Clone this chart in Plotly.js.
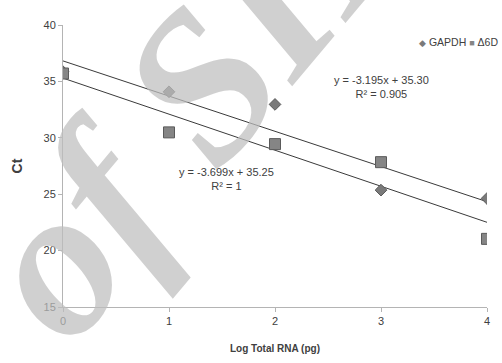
<!DOCTYPE html>
<html>
<head>
<meta charset="utf-8">
<script src="https://cdn.plot.ly/plotly-3.0.1.min.js"></script>
<style>html,body{margin:0;padding:0;background:#fff;}#chart{width:502px;height:363px;}</style>
</head>
<body>
<div id="chart"></div>
<script>
// Data
const logRNA = [0, 1, 2, 3, 4];
const gapdhCt = [35.86, 34.08, 32.96, 25.36, 24.62];
const d6dCt = [35.7, 30.48, 29.44, 27.84, 21.04];
const seriesNames = ["GAPDH", "Δ6D"];
const seriesSymbols = ["◆", "■"];
const eqLabels = ["y = -3.195x + 35.30<br>R² = 0.905", "y = -3.699x + 35.25<br>R² = 1"];
const yTicks = [15, 20, 25, 30, 35, 40];
const xTicks = [0, 1, 2, 3, 4];

function fit(xs, ys) {
  const n = xs.length;
  const mx = xs.reduce((a, b) => a + b, 0) / n;
  const my = ys.reduce((a, b) => a + b, 0) / n;
  let sxy = 0, sxx = 0;
  for (let i = 0; i < n; i++) { sxy += (xs[i] - mx) * (ys[i] - my); sxx += (xs[i] - mx) ** 2; }
  const m = sxy / sxx, b = my - m * mx;
  const x0 = Math.min(...xs), x1 = Math.max(...xs);
  return { x: [x0, x1], y: [m * x0 + b, m * x1 + b] };
}
const gFit = fit(logRNA, gapdhCt);
const dFit = fit(logRNA, d6dCt);

const txt = '#404040';
const font = 'Liberation Sans, Arial, sans-serif';
const markerColors = ['#7a7a7a', '#858585'];

const traces = [
  { x: gFit.x, y: gFit.y, mode: 'lines', line: { color: '#3a3a3a', width: 1 }, showlegend: false, hoverinfo: 'skip' },
  { x: dFit.x, y: dFit.y, mode: 'lines', line: { color: '#3a3a3a', width: 1 }, showlegend: false, hoverinfo: 'skip' },
  { x: logRNA, y: gapdhCt, name: seriesNames[0], mode: 'markers', type: 'scatter',
    marker: { symbol: 'diamond', size: 9, color: markerColors[0], line: { color: '#5a5a5a', width: 1 } } },
  { x: logRNA, y: d6dCt, name: seriesNames[1], mode: 'markers', type: 'scatter',
    marker: { symbol: 'square', size: 11, color: markerColors[1], line: { color: '#5a5a5a', width: 1 } } }
];

const legendText = seriesNames.map((n, i) =>
  '<span style="font-size:9px;color:' + markerColors[i] + '">' + seriesSymbols[i] + '</span> ' + n).join(' ');

const layout = {
  width: 502, height: 363,
  margin: { l: 63, r: 15, t: 25, b: 56, autoexpand: false },
  paper_bgcolor: '#fff', plot_bgcolor: '#fff',
  font: { family: font, size: 11, color: txt },
  showlegend: false,
  xaxis: {
    range: [0, 4], tickvals: xTicks, ticktext: xTicks.map(String),
    showgrid: false, zeroline: false, showline: true, linecolor: '#b4b4b4', linewidth: 1,
    ticks: 'outside', ticklen: 4, tickcolor: '#b4b4b4',
    tickfont: { size: 11, color: txt },
    title: { text: '<b>Log Total RNA (pg)</b>', font: { size: 10, color: txt }, standoff: 18 }
  },
  yaxis: {
    range: [15, 40], tickvals: yTicks, ticktext: yTicks.map(String),
    showgrid: false, zeroline: false, showline: true, linecolor: '#b4b4b4', linewidth: 1,
    ticks: 'outside', ticklen: 4, tickcolor: '#b4b4b4',
    tickfont: { size: 11, color: txt },
    title: { text: '<b>Ct</b>', font: { size: 14, color: txt }, standoff: 17 }
  },
  annotations: [
    { xref: 'paper', yref: 'paper', x: 0.33, y: 0.80, text: 'of SID', showarrow: false,
      textangle: -50, font: { family: 'Liberation Serif, serif', size: 212, style: 'italic', weight: 'bold',
      color: 'rgba(190,190,190,0.72)' }, xanchor: 'center', yanchor: 'middle' },
    { xref: 'paper', yref: 'paper', x: 1.03, y: 0.94, text: legendText, showarrow: false,
      font: { size: 10.5, color: txt }, xanchor: 'right', yanchor: 'middle' },
    { xref: 'paper', yref: 'paper', x: 0.75, y: 0.78, text: eqLabels[0], showarrow: false,
      font: { size: 11, color: txt }, align: 'center', xanchor: 'center', yanchor: 'middle' },
    { xref: 'paper', yref: 'paper', x: 0.385, y: 0.455, text: eqLabels[1], showarrow: false,
      font: { size: 11, color: txt }, align: 'center', xanchor: 'center', yanchor: 'middle' }
  ]
};

Plotly.newPlot('chart', traces, layout, { displayModeBar: false, staticPlot: true });
</script>
</body>
</html>
